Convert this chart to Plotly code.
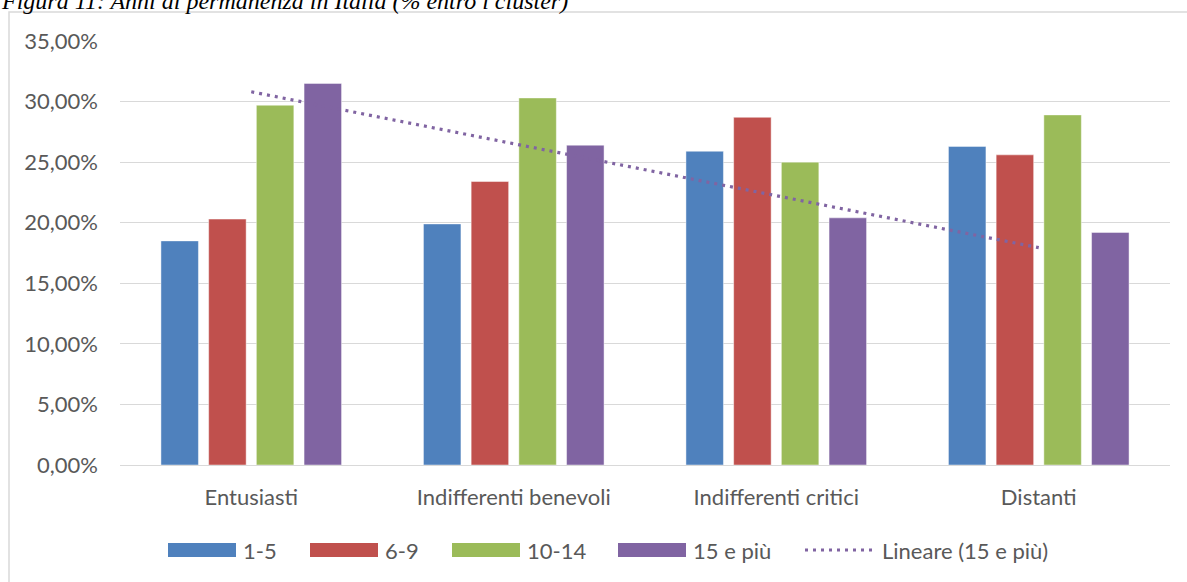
import numpy as np
import plotly.graph_objects as go

# --- data -----------------------------------------------------------------
clusters = ["Entusiasti", "Indifferenti benevoli", "Indifferenti critici", "Distanti"]
series_names = ["1-5", "6-9", "10-14", "15 e più"]
anni_1_5 = [18.5, 19.9, 25.9, 26.3]
anni_6_9 = [20.3, 23.4, 28.7, 25.6]
anni_10_14 = [29.7, 30.3, 25.0, 28.9]
anni_15_piu = [31.5, 26.4, 20.4, 19.2]
y_ticks = [0, 5, 10, 15, 20, 25, 30, 35]
title_text = "Figura 11: Anni di permanenza in Italia (% entro i cluster)"
trend_name = "Lineare (15 e più)"

# --- style ----------------------------------------------------------------
colors = ["#4F81BD", "#C0504D", "#9BBB59", "#8064A2"]
text_color = "#595959"
grid_color = "#D9D9D9"
font_family = "Lato, Calibri, sans-serif"
font_size = 22

W, H = 1187, 582
PLOT_L, PLOT_R, PLOT_T, PLOT_B = 120, 1170, 41, 465


def px_x(px):
    return (px - PLOT_L) / (PLOT_R - PLOT_L)


def px_y(py):
    return (PLOT_B - py) / (PLOT_B - PLOT_T)


def pct_label(v):
    return f"{v:.2f}".replace(".", ",") + "%"


fig = go.Figure()

all_series = [anni_1_5, anni_6_9, anni_10_14, anni_15_piu]
for name, vals, col in zip(series_names, all_series, colors):
    fig.add_trace(go.Bar(
        x=clusters, y=vals, name=name,
        marker=dict(color=col, line=dict(color="rgba(255,255,255,0.45)", width=1)),
        showlegend=False,
    ))

# least-squares linear trend of the "15 e più" series
xi = np.arange(1, len(clusters) + 1)
slope, intercept = np.polyfit(xi, anni_15_piu, 1)
trend = [slope * xi[0] + intercept, slope * xi[-1] + intercept]
fig.add_trace(go.Scatter(
    x=[clusters[0], clusters[-1]], y=trend, mode="lines", name=trend_name,
    line=dict(color=colors[3], width=3.2, dash="3px,5px"),
    showlegend=False,
))

shapes = []
annotations = []

# outer chart border (left and top edges visible)
shapes.append(dict(type="rect", xref="paper", yref="paper",
                   x0=px_x(9), x1=px_x(W + 20), y0=px_y(H + 20), y1=px_y(12),
                   line=dict(color=grid_color, width=1.5), fillcolor="rgba(0,0,0,0)",
                   layer="below"))

# custom legend
legend_y = 550
swatch_x = [168, 310, 452, 618]
swatch_w, swatch_h = 68, 14
for name, col, sx in zip(series_names, colors, swatch_x):
    shapes.append(dict(type="rect", xref="paper", yref="paper",
                       x0=px_x(sx), x1=px_x(sx + swatch_w),
                       y0=px_y(legend_y + swatch_h / 2), y1=px_y(legend_y - swatch_h / 2),
                       line=dict(width=0), fillcolor=col))
    annotations.append(dict(xref="paper", yref="paper", x=px_x(sx + swatch_w + 5),
                            y=px_y(legend_y), xanchor="left", yanchor="middle",
                            text=name, showarrow=False,
                            font=dict(family=font_family, size=font_size, color=text_color)))
shapes.append(dict(type="line", xref="paper", yref="paper",
                   x0=px_x(805), x1=px_x(876), y0=px_y(legend_y), y1=px_y(legend_y),
                   line=dict(color=colors[3], width=3, dash="3px,5px")))
annotations.append(dict(xref="paper", yref="paper", x=px_x(880), y=px_y(legend_y),
                        xanchor="left", yanchor="middle", text=trend_name, showarrow=False,
                        font=dict(family=font_family, size=font_size, color=text_color)))

# figure caption above the chart box
annotations.append(dict(xref="paper", yref="paper", x=px_x(-1), y=px_y(16),
                        xanchor="left", yanchor="bottom", text=title_text, showarrow=False,
                        font=dict(family="Liberation Serif, Times New Roman, serif",
                                  size=24, color="#000000", style="italic")))

fig.update_layout(
    width=W, height=H,
    margin=dict(l=PLOT_L, r=W - PLOT_R, t=PLOT_T, b=H - PLOT_B, pad=0),
    paper_bgcolor="white", plot_bgcolor="white",
    barmode="group", bargap=0.273, bargroupgap=0.214,
    showlegend=False,
    shapes=shapes, annotations=annotations,
    font=dict(family=font_family, size=font_size, color=text_color),
)
fig.update_xaxes(type="category", showgrid=False, showline=False, zeroline=False,
                 ticks="", ticklabelstandoff=17,
                 tickfont=dict(family=font_family, size=font_size, color=text_color))
fig.update_yaxes(range=[0, 35], tickvals=y_ticks, ticktext=[pct_label(v) for v in y_ticks],
                 showgrid=True, gridcolor=grid_color, gridwidth=1.3,
                 zeroline=True, zerolinecolor=grid_color, zerolinewidth=1.3,
                 showline=False, ticks="", ticklabelstandoff=21,
                 tickfont=dict(family=font_family, size=font_size, color=text_color))

fig.write_html("out.html")
